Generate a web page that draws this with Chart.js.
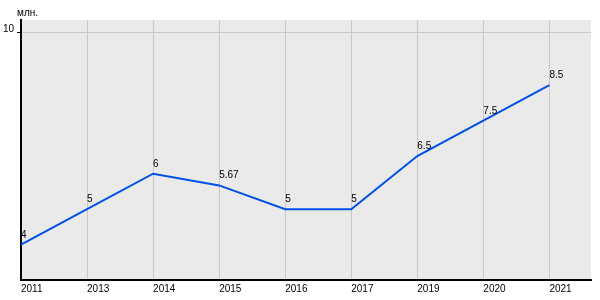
<!DOCTYPE html>
<html>
<head>
<meta charset="utf-8">
<script src="https://cdn.jsdelivr.net/npm/chart.js@4/dist/chart.umd.min.js"></script>
<style>
html,body{margin:0;padding:0;background:#fff;}
#wrap{width:600px;height:300px;}
</style>
</head>
<body>
<div id="wrap"><canvas id="c" width="600" height="300"></canvas></div>
<script>
const categories = ['2011','2013','2014','2015','2016','2017','2019','2020','2021'];
const values = [4, 5, 6, 5.67, 5, 5, 6.5, 7.5, 8.5];
const valueLabels = ['4','5','6','5.67','5','5','6.5','7.5','8.5'];
const yTicks = [10];
const unitLabel = 'млн.';

const FONT = '"Liberation Sans", Arial, sans-serif';

const bgPlugin = {
  id: 'bg',
  beforeDraw(chart) {
    const {ctx, chartArea: a} = chart;
    ctx.save();
    ctx.fillStyle = '#eaeaea';
    ctx.fillRect(a.left, a.top, a.right - a.left, a.bottom - a.top);
    ctx.restore();
  },
  afterDraw(chart) {
    const {ctx} = chart;
    ctx.save();
    ctx.font = '10px ' + FONT;
    ctx.fillStyle = '#000';
    ctx.textBaseline = 'alphabetic';
    ctx.textAlign = 'left';
    ctx.fillText(unitLabel, 17, 16);
    const meta = chart.getDatasetMeta(0);
    meta.data.forEach((pt, i) => {
      ctx.fillText(valueLabels[i], pt.x, pt.y - 7);
    });
    ctx.restore();
  }
};

new Chart(document.getElementById('c'), {
  type: 'line',
  data: {
    datasets: [{
      data: values.map((v, i) => ({x: i, y: v})),
      borderColor: '#0050e8',
      borderWidth: 2,
      pointRadius: 0,
      tension: 0,
      fill: false,
      clip: false
    }]
  },
  options: {
    responsive: false,
    animation: false,
    devicePixelRatio: 1,
    layout: {padding: {top: 20, right: 9, left: 0, bottom: 0}},
    plugins: {legend: {display: false}, tooltip: {enabled: false}},
    scales: {
      x: {
        type: 'linear',
        min: 0,
        max: 8.63,
        afterBuildTicks(scale) { scale.ticks = categories.map((_, i) => ({value: i})); },
        afterFit(scale) { scale.height = 20; },
        ticks: {
          callback: (v) => categories[v],
          align: 'start',
          autoSkip: false,
          maxRotation: 0,
          padding: 3,
          color: '#000',
          font: {family: FONT, size: 10}
        },
        grid: {color: '#c8c8c8', lineWidth: 1, drawTicks: false},
        border: {color: '#000', width: 2}
      },
      y: {
        type: 'linear',
        min: 3,
        max: 10.34,
        afterBuildTicks(scale) { scale.ticks = yTicks.map(v => ({value: v})); },
        afterFit(scale) { scale.width = 21; },
        ticks: {
          padding: 3,
          labelOffset: -3,
          color: '#000',
          font: {family: FONT, size: 10}
        },
        grid: {color: '#c8c8c8', lineWidth: 1, drawTicks: true, tickLength: 4, tickColor: '#000'},
        border: {color: '#000', width: 2}
      }
    }
  },
  plugins: [bgPlugin]
});
</script>
</body>
</html>
